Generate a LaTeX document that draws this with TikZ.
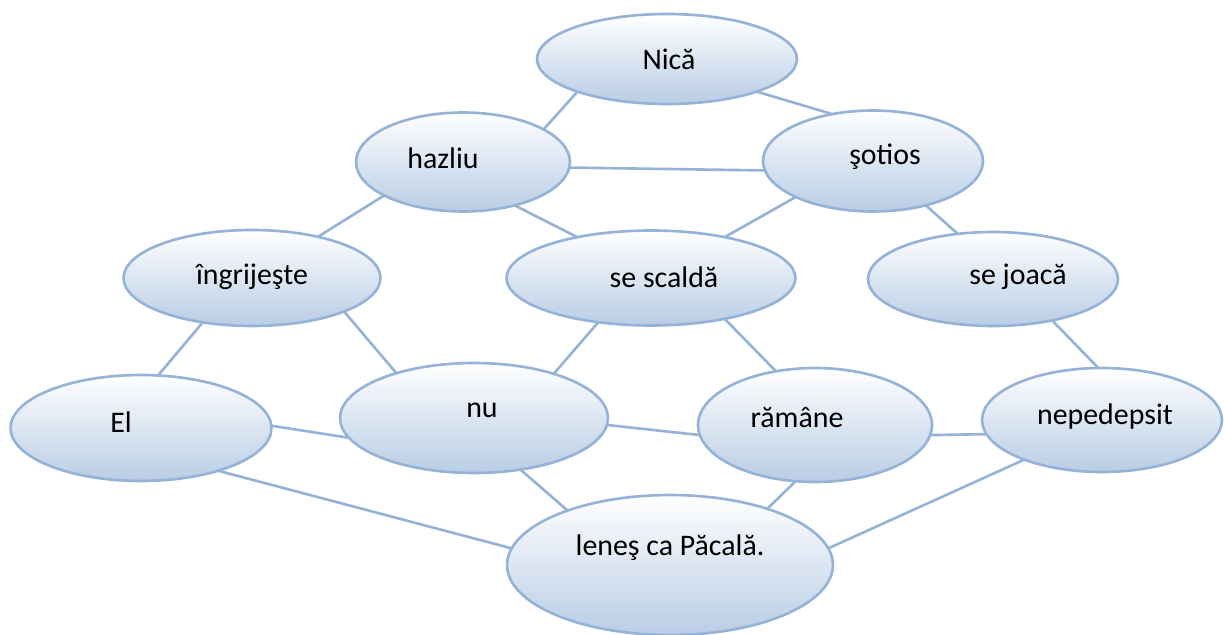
\documentclass[tikz,border=0pt]{standalone}
\usepackage{fontspec}
\setmainfont{Carlito}
\usetikzlibrary{shapes.geometric}
\definecolor{edgeblue}{RGB}{149,179,215}
\definecolor{fillblue}{RGB}{185,205,229}
\begin{document}
\begin{tikzpicture}[
    x=0.02cm,
    y=-0.02cm,
    bubble/.style={ellipse, draw=edgeblue, line width=1.5pt, top color=white, bottom color=fillblue, inner sep=0pt, outer sep=0pt},
    word/.style={font=\fontsize{17}{20}\selectfont, text=black},
    link/.style={draw=edgeblue, line width=1.5pt}
  ]
  \useasboundingbox (0,0) rectangle (1224,635);

  \node[bubble, minimum width=5.2cm, minimum height=1.8cm, label={[word, xshift=0.04cm]center:Nică}] (nica) at (667,59) {};
  \node[bubble, minimum width=4.28cm, minimum height=1.98cm, label={[word, xshift=-0.4cm, yshift=0.08cm]center:hazliu}] (hazliu) at (463,162) {};
  \node[bubble, minimum width=4.4cm, minimum height=2.02cm, label={[word, xshift=0.24cm, yshift=0.08cm]center:şotios}] (sotios) at (873,161) {};
  \node[bubble, minimum width=5.14cm, minimum height=1.92cm, label={[word, yshift=0.02cm]center:îngrijeşte}] (ingrijeste) at (252,278) {};
  \node[bubble, minimum width=5.78cm, minimum height=1.9cm, label={[word, xshift=0.26cm, yshift=0.02cm]center:se scaldă}] (scalda) at (651,278) {};
  \node[bubble, minimum width=5.0cm, minimum height=1.88cm, label={[word, xshift=0.5cm, yshift=0.04cm]center:se joacă}] (joaca) at (993,279) {};
  \node[bubble, minimum width=5.22cm, minimum height=2.12cm, label={[word, xshift=-0.4cm, yshift=0.12cm]center:El}] (el) at (141,428) {};
  \node[bubble, minimum width=5.36cm, minimum height=2.2cm, label={[word, xshift=0.16cm, yshift=0.16cm]center:nu}] (nu) at (474,418) {};
  \node[bubble, minimum width=4.68cm, minimum height=2.28cm, label={[word, xshift=-0.36cm, yshift=0.14cm]center:rămâne}] (ramane) at (815,425) {};
  \node[bubble, minimum width=4.8cm, minimum height=2.08cm, label={[word, xshift=0.06cm, yshift=0.06cm]center:nepedepsit}] (nepedepsit) at (1102,420) {};
  \node[bubble, minimum width=6.52cm, minimum height=2.8cm, label={[word, yshift=0.34cm]center:leneş ca Păcală.}] (lenes) at (670,565) {};

  % connectors
  \draw[link] (nica.200) -- (hazliu.22);
  \draw[link] (nica.340) -- (sotios.131);
  \draw[link] (hazliu.357) -- (sotios.185);
  \draw[link] (hazliu.203) -- (ingrijeste.32);
  \draw[link] (hazliu.320) -- (scalda.151);
  \draw[link] (sotios.205) -- (scalda.29);
  \draw[link] (sotios.320) -- (joaca.128);
  \draw[link] (ingrijeste.222) -- (el.72);
  \draw[link] (ingrijeste.340) -- (nu.150);
  \draw[link] (scalda.220) -- (nu.29);
  \draw[link] (scalda.331) -- (ramane.126);
  \draw[link] (joaca.325) -- (nepedepsit.94);
  \draw[link] (el.1) -- (nu.189);
  \draw[link] (nu.357) -- (ramane.185);
  \draw[link] (ramane.355) -- (nepedepsit.187);
  \draw[link] (el.331) -- (lenes.174);
  \draw[link] (nu.312) -- (lenes.152);
  \draw[link] (ramane.251) -- (lenes.30);
  \draw[link] (nepedepsit.207) -- (lenes.6);
\end{tikzpicture}
\end{document}
